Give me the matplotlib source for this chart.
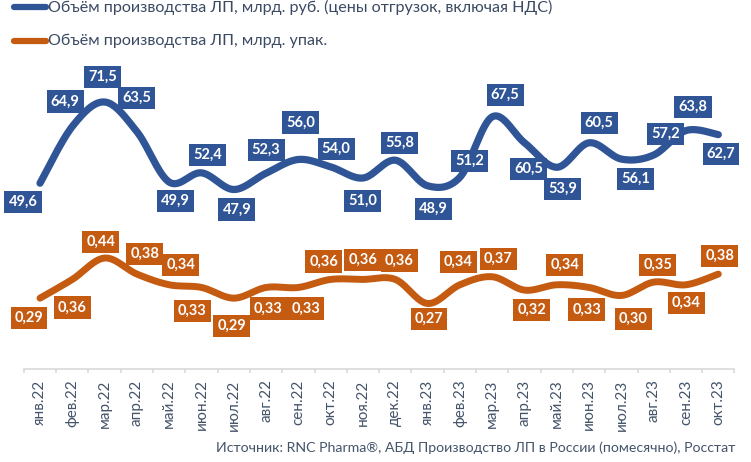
import numpy as np
import matplotlib
matplotlib.use("Agg")
import matplotlib.pyplot as plt
from matplotlib.lines import Line2D

months = ["янв.22", "фев.22", "мар.22", "апр.22", "май.22", "июн.22", "июл.22", "авг.22",
          "сен.22", "окт.22", "ноя.22", "дек.22", "янв.23", "фев.23", "мар.23", "апр.23",
          "май.23", "июн.23", "июл.23", "авг.23", "сен.23", "окт.23"]
rub = [49.6, 64.9, 71.5, 63.5, 49.9, 52.4, 47.9, 52.3, 56.0, 54.0, 51.0, 55.8,
       48.9, 51.2, 67.5, 60.5, 53.9, 60.5, 56.1, 57.2, 63.8, 62.7]
pack = [0.29, 0.36, 0.44, 0.38, 0.34, 0.33, 0.29, 0.33, 0.33, 0.36, 0.36, 0.36,
        0.27, 0.34, 0.37, 0.32, 0.34, 0.33, 0.30, 0.35, 0.34, 0.38]
legend_rub = "Объём производства ЛП, млрд. руб. (цены отгрузок, включая НДС)"
legend_pack = "Объём производства ЛП, млрд. упак."
source = "Источник: RNC Pharma®, АБД Производство ЛП в России (помесячно), Росстат"

# label offsets in pixels (dx right, dy down)
rub_off = [(-17, 19), (-7, -25), (-2, -25), (0, -34), (6, 19), (6, -18), (3, 20), (0, -23.5),
           (2, -37), (5.5, -18), (-0.5, 23), (4, -17), (6, 23), (10, -16.5), (13, -22), (4, 26),
           (6, 22), (10, -20), (14, 20), (12, -21), (7, -23.5), (2.6, 19.5)]
pack_off = [(-11, 20), (0, 28), (-4, -16), (8, -20), (11.5, -20), (-9, 23.5), (-2, 28), (2, 21),
            (7.5, 21), (-7, -18), (0, -19.5), (4, -19), (1.5, 15.5), (-1.5, -23), (6, -18), (7, 20),
            (8, -20), (-2.5, 22), (12, 23.5), (4, -17), (0.5, 18), (1.5, -18)]

BLUE = "#2F5597"
ORANGE = "#C55A11"
TXT = "#44546A"
FONT = ["Lato", "DejaVu Sans"]
plt.rcParams['font.family'] = FONT


def smooth(y, n=30):
    y = np.asarray(y, float)
    x = np.arange(len(y), dtype=float)
    P = np.column_stack([x, y])
    Pe = np.vstack([P[0], P, P[-1]])
    out = []
    for i in range(len(P) - 1):
        p0, p1, p2, p3 = Pe[i], Pe[i + 1], Pe[i + 2], Pe[i + 3]
        c1 = p1 + (p2 - p0) / 6.0
        c2 = p2 - (p3 - p1) / 6.0
        t = np.linspace(0, 1, n, endpoint=(i == len(P) - 2))[:, None]
        seg = (1 - t) ** 3 * p1 + 3 * (1 - t) ** 2 * t * c1 + 3 * (1 - t) * t ** 2 * c2 + t ** 3 * p2
        out.append(seg)
    out = np.vstack(out)
    return out[:, 0], out[:, 1]


W, H = 751, 462
fig = plt.figure(figsize=(W / 100, H / 100), dpi=100)
left, right, top, bottom = 23.85, 734.45, 0, 369
ax = fig.add_axes([left / W, 1 - bottom / H, (right - left) / W, (bottom - top) / H])
ax2 = ax.twinx()

n = len(months)
ax.set_xlim(-0.5, n - 0.5)
ax.set_ylim(-0.5, 99)
ax2.set_ylim(0.025, 1.405)

xs, ys = smooth(rub)
ax.plot(xs, ys, color=BLUE, lw=5.2, solid_capstyle='round', zorder=3)
xs2, ys2 = smooth(pack)
ax2.plot(xs2, ys2, color=ORANGE, lw=5.0, solid_capstyle='round', zorder=3)

LBL = dict(textcoords='offset pixels', ha='center', va='center', color='white',
           fontsize=10.5, fontweight='bold', zorder=5)
for i, v in enumerate(rub):
    dx, dy = rub_off[i]
    ax.annotate(f"{v:.1f}".replace('.', ','), xy=(i, v), xytext=(dx, -dy),
                bbox=dict(boxstyle='square,pad=0.28', fc=BLUE, ec='none'), **LBL)
for i, v in enumerate(pack):
    dx, dy = pack_off[i]
    ax2.annotate(f"{v:.2f}".replace('.', ','), xy=(i, v), xytext=(dx, -dy),
                 bbox=dict(boxstyle='square,pad=0.28', fc=ORANGE, ec='none'), **LBL)

for a in (ax, ax2):
    for s in ('top', 'right', 'left', 'bottom'):
        a.spines[s].set_visible(False)
    a.set_yticks([])
ax.spines['bottom'].set_visible(True)
ax.spines['bottom'].set_color('#D9D9D9')
ax.spines['bottom'].set_linewidth(1.2)
ax.set_xticks(range(n))
ax.set_xticklabels(months, rotation=90, color=TXT, fontsize=11)
ax.tick_params(axis='x', which='major', length=0, pad=7.5)
ax.set_xticks(np.arange(-0.5, n, 1.0), minor=True)
ax.tick_params(axis='x', which='minor', length=3, color='#D9D9D9', width=1.2)

# legend
fig.add_artist(Line2D([14 / W, 46 / W], [1 - 7 / H] * 2, color=BLUE, lw=4.5, solid_capstyle='round'))
fig.text(48 / W, 1 - 7 / H, legend_rub, color="#3B4A63", fontsize=11.6, va='center', ha='left')
fig.add_artist(Line2D([14 / W, 46 / W], [1 - 41 / H] * 2, color=ORANGE, lw=4.5, solid_capstyle='round'))
fig.text(48 / W, 1 - 41 / H, legend_pack, color="#3B4A63", fontsize=11.6, va='center', ha='left')

fig.text(735 / W, 1 - 448 / H, source, color=TXT, fontsize=10.2, ha='right', va='center')

fig.savefig("out.png", dpi=100)
